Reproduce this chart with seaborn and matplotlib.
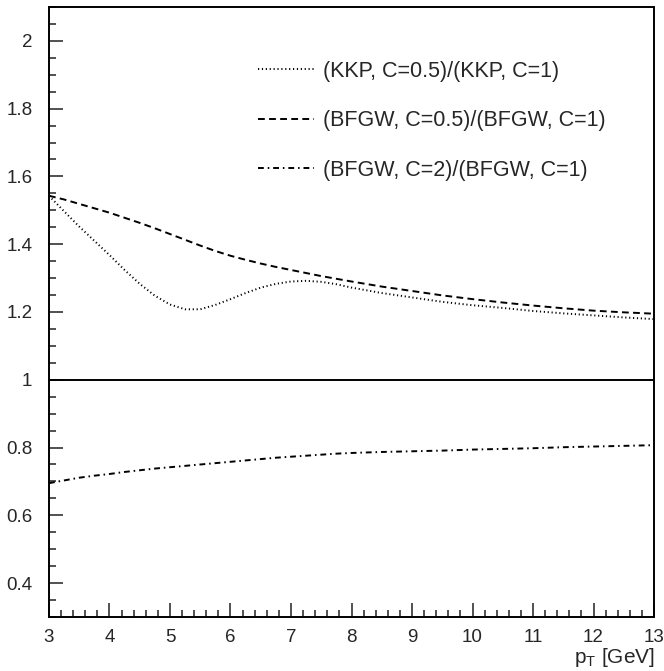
import matplotlib
matplotlib.use("Agg")
import matplotlib.pyplot as plt
from matplotlib.ticker import MultipleLocator
import seaborn as sns
import pandas as pd

# transverse momentum grid [GeV]
pt = [3.0, 3.25, 3.5, 3.75, 4.0, 4.25, 4.5, 4.75, 5.0, 5.25, 5.5, 5.75, 6.0,
      6.25, 6.5, 6.75, 7.0, 7.25, 7.5, 7.75, 8.0,
      8.5, 9.0, 9.5, 10.0, 10.5, 11.0, 11.5, 12.0, 12.5, 13.0]

# scale-variation ratios
kkp_c05 = [1.543, 1.497, 1.452, 1.410, 1.368, 1.324, 1.283, 1.248, 1.222, 1.208, 1.208,
           1.221, 1.238, 1.256, 1.272, 1.283, 1.290, 1.292, 1.289, 1.282, 1.272,
           1.256, 1.243, 1.230, 1.220, 1.212, 1.203, 1.196, 1.190, 1.184, 1.179]
bfgw_c05 = [1.543, 1.532, 1.519, 1.506, 1.493, 1.478, 1.463, 1.447, 1.430, 1.413, 1.396,
            1.380, 1.366, 1.354, 1.343, 1.333, 1.324, 1.315, 1.306, 1.298, 1.290,
            1.275, 1.262, 1.249, 1.238, 1.228, 1.219, 1.211, 1.204, 1.199, 1.195]
bfgw_c2 = [0.695, 0.703, 0.711, 0.717, 0.722, 0.728, 0.733, 0.738, 0.742, 0.746, 0.750,
           0.754, 0.758, 0.762, 0.766, 0.770, 0.773, 0.776, 0.779, 0.782, 0.784,
           0.787, 0.789, 0.791, 0.794, 0.796, 0.798, 0.801, 0.803, 0.805, 0.807]

labels = ["(KKP, C=0.5)/(KKP, C=1)",
          "(BFGW, C=0.5)/(BFGW, C=1)",
          "(BFGW, C=2)/(BFGW, C=1)"]

sns.set_style("ticks")
plt.rcParams["font.family"] = ["Liberation Sans", "DejaVu Sans"]
plt.rcParams["mathtext.fontset"] = "custom"
plt.rcParams["mathtext.rm"] = "Liberation Sans"

fig = plt.figure(figsize=(6.64, 6.71), dpi=100)
ax = fig.add_axes([49 / 664, 54 / 671, 605 / 664, 610 / 671])

df = pd.DataFrame({"pt": pt, "kkp": kkp_c05, "b05": bfgw_c05, "b2": bfgw_c2})

styles = [(0, (0.6, 1.4)), (0, (3.5, 2.2)), (0, (3.0, 2.0, 0.8, 2.0))]
for col, lab, ls in zip(["kkp", "b05", "b2"], labels, styles):
    sns.lineplot(data=df, x="pt", y=col, ax=ax, color="black", linewidth=1.4,
                 linestyle=ls, label=lab)

ax.axhline(1.0, color="black", linewidth=1.4)

ax.set_xlim(3, 13)
ax.set_ylim(0.3, 2.1)
ax.xaxis.set_major_locator(MultipleLocator(1))
ax.xaxis.set_minor_locator(MultipleLocator(0.2))
ax.yaxis.set_minor_locator(MultipleLocator(0.05))
ax.set_yticks([0.4, 0.6, 0.8, 1.0, 1.2, 1.4, 1.6, 1.8, 2.0])
ax.set_yticklabels(["0.4", "0.6", "0.8", "1", "1.2", "1.4", "1.6", "1.8", "2"])

ax.tick_params(which="both", direction="in", top=False, right=False,
               width=1.2, color="#333333", labelsize=13.5)
ax.tick_params(which="major", length=10)
ax.tick_params(which="minor", length=5)
ax.tick_params(axis="y", pad=12)
ax.tick_params(axis="x", pad=9)

for sp in ax.spines.values():
    sp.set_linewidth(1.4)
    sp.set_color("black")

ax.set_ylabel("")
ax.set_xlabel("")
fig.text(655 / 664, 8 / 671, r"$\mathregular{p_T}$ [GeV]", fontsize=15,
         ha="right", va="baseline")

leg = ax.legend(loc="upper left", bbox_to_anchor=(0.345, 0.912), frameon=False,
                fontsize=15.5, handlelength=2.6, handletextpad=0.45,
                labelspacing=1.32, borderpad=0, borderaxespad=0)

fig.savefig("out.png", dpi=100)
